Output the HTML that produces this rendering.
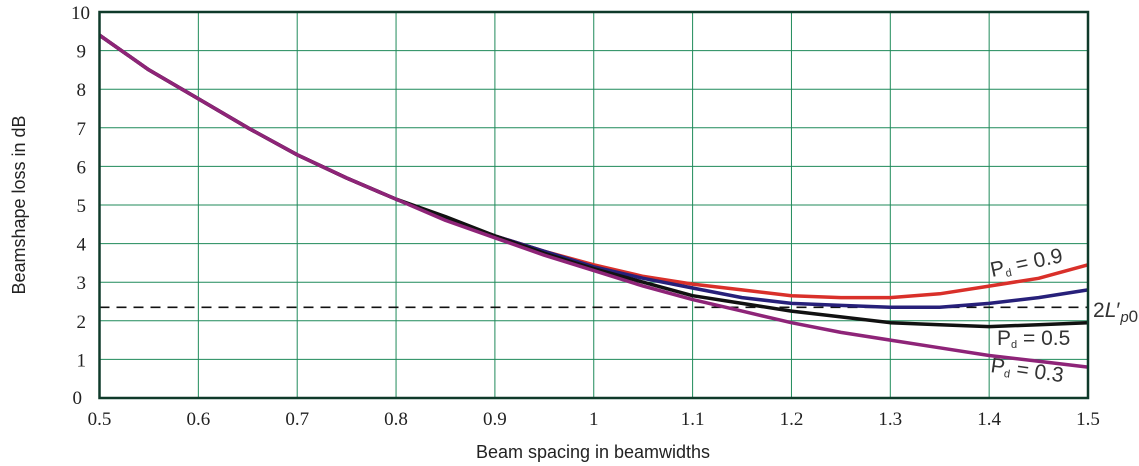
<!DOCTYPE html>
<html><head><meta charset="utf-8"><style>
html,body{margin:0;padding:0;background:#fff;width:1139px;height:466px;overflow:hidden}
.serif{font-family:"Liberation Serif",serif}
.sans{font-family:"Liberation Sans",sans-serif}
</style></head><body>
<svg id="chart" width="1139" height="466" xmlns="http://www.w3.org/2000/svg">
<g id="grid"></g>
<g id="ticks" class="serif"></g>
<g id="series"></g>
<rect x="99.5" y="12" width="988.5" height="386" fill="none" stroke="#0f3a2a" stroke-width="2.5"/>
<text class="sans" x="593" y="458" text-anchor="middle" font-size="18" fill="#222">Beam spacing in beamwidths</text>
<text class="sans" transform="translate(25,205) rotate(-90)" text-anchor="middle" font-size="18" fill="#222">Beamshape loss in dB</text>
<g fill="#333" font-size="21">
<text class="sans" x="992" y="277" transform="rotate(-12 992 277)">P<tspan font-size="11" dy="3">d</tspan><tspan dy="-3"> = 0.9</tspan></text>
<text class="sans" x="997" y="345">P<tspan font-size="11" dy="3">d</tspan><tspan dy="-3"> = 0.5</tspan></text>
<text class="sans" x="990" y="372" transform="rotate(8 990 372)">P<tspan font-size="11" dy="3">d</tspan><tspan dy="-3"> = 0.3</tspan></text>
<text class="sans" x="1093" y="317">2<tspan font-style="italic">L</tspan>′<tspan font-size="15" dy="5" font-style="italic">p</tspan><tspan font-size="17">0</tspan></text>
</g>
</svg>
<script>
const xValues=[0.5,0.55,0.6,0.65,0.7,0.75,0.8,0.85,0.9,0.95,1.0,1.05,1.1,1.15,1.2,1.25,1.3,1.35,1.4,1.45,1.5];
const pd09=[9.4,8.5,7.75,7.0,6.3,5.7,5.15,4.65,4.2,3.8,3.45,3.15,2.95,2.8,2.65,2.6,2.6,2.7,2.9,3.1,3.45];
const pdMid=[9.4,8.5,7.75,7.0,6.3,5.7,5.15,4.65,4.2,3.8,3.4,3.1,2.85,2.6,2.45,2.4,2.35,2.35,2.45,2.6,2.8];
const pd05=[9.4,8.5,7.75,7.0,6.3,5.7,5.15,4.7,4.2,3.75,3.35,3.0,2.65,2.45,2.25,2.1,1.95,1.9,1.85,1.9,1.95];
const pd03=[9.4,8.5,7.75,7.0,6.3,5.7,5.15,4.6,4.15,3.7,3.3,2.9,2.55,2.25,1.95,1.7,1.5,1.3,1.1,0.95,0.8];
const refLevel=2.35;
const xTicks=[0.5,0.6,0.7,0.8,0.9,1,1.1,1.2,1.3,1.4,1.5];
const xTickLabels=["0.5","0.6","0.7","0.8","0.9","1","1.1","1.2","1.3","1.4","1.5"];
const yTicks=[0,1,2,3,4,5,6,7,8,9,10];
const yTickLabels=["0","1","2","3","4","5","6","7","8","9","10"];
const NS="http://www.w3.org/2000/svg";
const X=v=>99.5+(v-0.5)*988.5;
const Y=v=>398-v*38.6;
function mk(tag,parent,attrs){const e=document.createElementNS(NS,tag);for(const k in attrs)e.setAttribute(k,attrs[k]);parent.appendChild(e);return e;}
const grid=document.getElementById('grid'),ticks=document.getElementById('ticks'),series=document.getElementById('series');
xTicks.forEach((t,i)=>{
  const l=mk('line',grid,{x1:X(t),x2:X(t),y1:12,y2:398,stroke:'#1f8a5a','stroke-width':1});
  
  
  const tx=mk('text',ticks,{x:X(t),y:425,'text-anchor':'middle','font-size':19,fill:'#222'});
  tx.textContent=xTickLabels[i];
  
  
});
yTicks.forEach((t,i)=>{
  const l=mk('line',grid,{x1:99.5,x2:1088,y1:Y(t),y2:Y(t),stroke:'#1f8a5a','stroke-width':1});
  
  
  const tx=mk('text',ticks,{x:i==10?90:(i==0?82:86),y:Y(t)+(i==0?6:7),'text-anchor':'end','font-size':19,fill:'#222'});
  tx.textContent=yTickLabels[i];
  
  
});
const ref=mk('line',series,{x1:99.5,x2:1088,y1:Y(refLevel),y2:Y(refLevel),stroke:'#111','stroke-width':1.6,'stroke-dasharray':'10,7'});


function draw(vals,color,name){
  const d=vals.map((v,i)=>(i?'L':'M')+X(xValues[i]).toFixed(1)+','+Y(v).toFixed(1)).join(' ');
  const p=mk('path',series,{d:d,fill:'none',stroke:color,'stroke-width':3.5,'stroke-linejoin':'round'});
  
  
}
draw(pd09,'#d9302a','curve-pd-0.9');
draw(pdMid,'#27207a','curve-pd-mid');
draw(pd05,'#111111','curve-pd-0.5');
draw(pd03,'#8e2478','curve-pd-0.3');
</script>
</body></html>
